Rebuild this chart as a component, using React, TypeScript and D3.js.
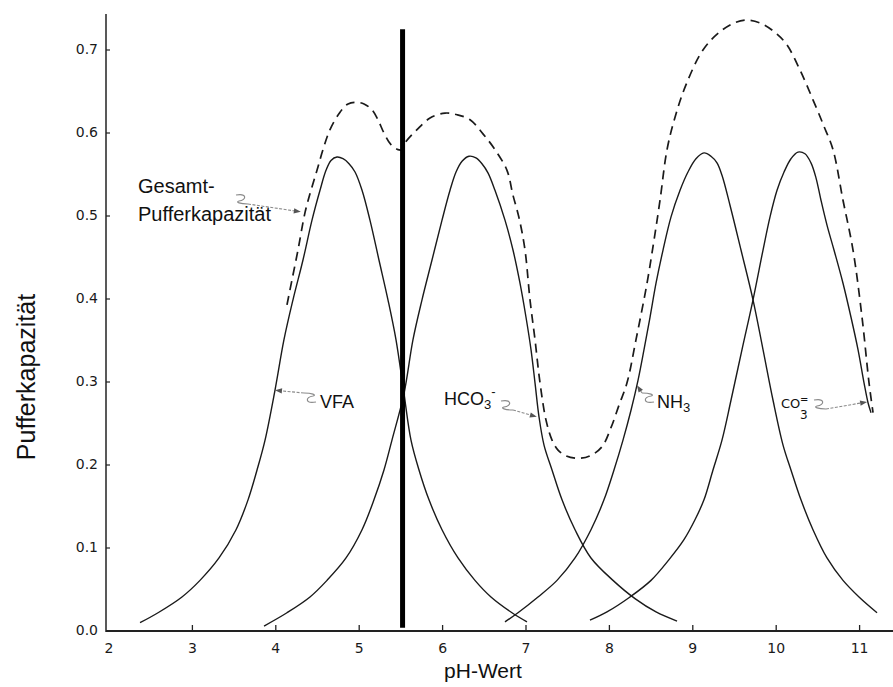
import React from "react";
import * as d3 from "d3";

// ---- data (pH, Pufferkapazität) ----
const vfaPH = [2.372, 2.588, 2.875, 3.091, 3.319, 3.523, 3.667, 3.775, 3.871, 3.99, 4.098, 4.206, 4.326, 4.434, 4.53, 4.602, 4.662, 4.734, 4.806, 4.878, 4.95, 5.034, 5.129, 5.237, 5.345, 5.441, 5.537, 5.621, 5.717, 5.837, 5.993, 6.185, 6.388, 6.58, 6.832, 7.012];
const vfaBeta = [0.01, 0.022, 0.041, 0.061, 0.088, 0.122, 0.158, 0.194, 0.23, 0.29, 0.351, 0.399, 0.447, 0.495, 0.531, 0.555, 0.567, 0.571, 0.569, 0.563, 0.553, 0.531, 0.495, 0.447, 0.399, 0.351, 0.286, 0.23, 0.194, 0.158, 0.122, 0.088, 0.061, 0.041, 0.022, 0.011];

const hco3PH = [3.859, 4.134, 4.41, 4.614, 4.842, 5.034, 5.177, 5.297, 5.393, 5.537, 5.645, 5.753, 5.873, 5.993, 6.089, 6.161, 6.233, 6.317, 6.4, 6.472, 6.544, 6.628, 6.748, 6.844, 6.928, 7.0, 7.06, 7.108, 7.156, 7.216, 7.312, 7.432, 7.588, 7.779, 8.043, 8.307, 8.559, 8.811];
const hco3Beta = [0.006, 0.022, 0.041, 0.061, 0.088, 0.122, 0.158, 0.194, 0.23, 0.286, 0.351, 0.399, 0.447, 0.495, 0.531, 0.553, 0.566, 0.572, 0.57, 0.563, 0.552, 0.531, 0.495, 0.459, 0.419, 0.378, 0.339, 0.299, 0.258, 0.224, 0.194, 0.158, 0.122, 0.088, 0.061, 0.039, 0.023, 0.012];

const nh3PH = [6.748, 6.904, 7.144, 7.372, 7.588, 7.779, 7.935, 8.055, 8.163, 8.259, 8.343, 8.415, 8.487, 8.559, 8.643, 8.739, 8.847, 8.942, 9.038, 9.134, 9.218, 9.29, 9.35, 9.446, 9.578, 9.722, 9.842, 9.962, 10.082, 10.177, 10.297, 10.441, 10.609, 10.801, 10.993, 11.209];
const nh3Beta = [0.011, 0.022, 0.041, 0.061, 0.088, 0.122, 0.158, 0.194, 0.23, 0.266, 0.302, 0.339, 0.378, 0.419, 0.459, 0.499, 0.531, 0.553, 0.569, 0.576, 0.572, 0.564, 0.549, 0.513, 0.459, 0.399, 0.339, 0.278, 0.224, 0.194, 0.158, 0.122, 0.088, 0.061, 0.041, 0.022];

const co3PH = [7.767, 7.971, 8.247, 8.499, 8.715, 8.894, 9.026, 9.134, 9.242, 9.35, 9.458, 9.59, 9.722, 9.842, 9.926, 10.01, 10.094, 10.177, 10.261, 10.345, 10.417, 10.477, 10.537, 10.609, 10.693, 10.801, 10.897, 10.981, 11.053, 11.101, 11.137];
const co3Beta = [0.013, 0.023, 0.041, 0.061, 0.086, 0.11, 0.134, 0.158, 0.194, 0.23, 0.278, 0.339, 0.399, 0.459, 0.499, 0.531, 0.553, 0.569, 0.577, 0.575, 0.564, 0.546, 0.519, 0.489, 0.459, 0.419, 0.378, 0.339, 0.299, 0.275, 0.263];

const totalPH = [4.134, 4.194, 4.266, 4.35, 4.422, 4.494, 4.566, 4.65, 4.77, 4.866, 4.962, 5.058, 5.153, 5.225, 5.297, 5.381, 5.465, 5.513, 5.549, 5.693, 5.849, 6.029, 6.173, 6.329, 6.484, 6.628, 6.772, 6.844, 6.916, 6.988, 7.048, 7.108, 7.168, 7.24, 7.312, 7.384, 7.48, 7.624, 7.767, 7.911, 8.019, 8.115, 8.211, 8.319, 8.451, 8.535, 8.607, 8.691, 8.787, 8.918, 9.122, 9.326, 9.506, 9.662, 9.842, 10.01, 10.13, 10.285, 10.441, 10.573, 10.681, 10.801, 10.921, 11.029, 11.113, 11.161];
const totalBeta = [0.393, 0.423, 0.459, 0.504, 0.531, 0.555, 0.58, 0.604, 0.625, 0.635, 0.637, 0.635, 0.628, 0.616, 0.6, 0.586, 0.58, 0.58, 0.588, 0.604, 0.618, 0.624, 0.622, 0.616, 0.599, 0.58, 0.555, 0.525, 0.498, 0.459, 0.399, 0.351, 0.299, 0.254, 0.23, 0.218, 0.211, 0.208, 0.211, 0.222, 0.245, 0.272, 0.299, 0.351, 0.419, 0.471, 0.519, 0.58, 0.619, 0.658, 0.7, 0.722, 0.733, 0.736, 0.731, 0.719, 0.706, 0.676, 0.64, 0.608, 0.58, 0.519, 0.459, 0.378, 0.299, 0.263];

const markerPH = 5.52;
const markerRange = [0.004, 0.725];

const xTicks = [3, 4, 5, 6, 7, 8, 9, 10, 11];
const xTickLabels = ["2", "3", "4", "5", "6", "7", "8", "9", "10", "11"];
const xTickLabelValues = [2, 3, 4, 5, 6, 7, 8, 9, 10, 11];
const yTicks = [0, 0.1, 0.2, 0.3, 0.4, 0.5, 0.6, 0.7];
const yTickLabels = ["0.0", "0.1", "0.2", "0.3", "0.4", "0.5", "0.6", "0.7"];

// annotation tips (pH, beta)
const tipGesamt = [4.3, 0.505];
const tipVFA = [3.99, 0.29];
const tipHCO3 = [7.13, 0.258];
const tipNH3 = [8.33, 0.296];
const tipCO3 = [11.09, 0.276];

const zip = (a: number[], b: number[]) => a.map((v, i) => [v, b[i]] as [number, number]);

function Squiggle({ sx, sy, tx, ty }: { sx: number; sy: number; tx: number; ty: number }) {
  const dir = tx > sx ? 1 : -1;
  const vs = Math.abs(ty - sy) < 2 ? 1 : Math.sign(ty - sy);
  const p = d3.path();
  p.moveTo(sx, sy);
  p.bezierCurveTo(sx + dir * 11, sy - vs * 2, sx + dir * 11, sy + vs * 5, sx + dir * 3, sy + vs * 6);
  p.bezierCurveTo(sx - dir * 1, sy + vs * 7, sx + dir * 4, sy + vs * 9, sx + dir * 12, sy + vs * 9);
  const ex = sx + dir * 12;
  const ey = sy + vs * 9;
  const ang = Math.atan2(ty - ey, tx - ex);
  const L = 7, Wd = 2.6;
  const bx = tx - L * Math.cos(ang), by = ty - L * Math.sin(ang);
  const head = `M${tx},${ty} L${bx + Wd * Math.sin(ang)},${by - Wd * Math.cos(ang)} L${bx - Wd * Math.sin(ang)},${by + Wd * Math.cos(ang)} Z`;
  return (
    <g>
      <path d={p.toString()} fill="none" stroke="#8a8a8a" strokeWidth={1.2} />
      <line x1={ex} y1={ey} x2={bx} y2={by} stroke="#8a8a8a" strokeWidth={1.1} strokeDasharray="3,1.5" />
      <path d={head} fill="#555" />
    </g>
  );
}

export default function App() {
  const x = d3.scaleLinear().domain([2, 11]).range([109, 859.6]);
  const y = d3.scaleLinear().domain([0, 0.7]).range([631, 50]);
  const line = d3
    .line<[number, number]>()
    .x((d) => x(d[0]))
    .y((d) => y(d[1]))
    .curve(d3.curveCatmullRom.alpha(0.5));

  const solid = [zip(vfaPH, vfaBeta), zip(hco3PH, hco3Beta), zip(nh3PH, nh3Beta), zip(co3PH, co3Beta)];
  const sans = "'Liberation Sans', Arial, Helvetica, sans-serif";
  const tickFont = "'DejaVu Sans', sans-serif";
  const axisLeft = 106;
  const axisBottom = 631;

  return (
    <svg width={893} height={687} style={{ position: "absolute", left: 0, top: 0, background: "#fff" }}>
      <rect width={893} height={687} fill="#fff" />
      {/* axes */}
      <line x1={axisLeft} y1={14} x2={axisLeft} y2={axisBottom + 1} stroke="#222" strokeWidth={1.5} />
      <line x1={axisLeft} y1={axisBottom} x2={893} y2={axisBottom} stroke="#222" strokeWidth={1.8} />
      {xTicks.map((t) => (
        <line key={"xt" + t} x1={x(t)} x2={x(t)} y1={axisBottom} y2={axisBottom - 6} stroke="#222" strokeWidth={1.3} />
      ))}
      {yTicks.map((t) => (
        <line key={"yt" + t} x1={axisLeft} x2={axisLeft + 4} y1={y(t)} y2={y(t)} stroke="#222" strokeWidth={1.2} />
      ))}
      {xTickLabelValues.map((t, i) => (
        <text key={"xl" + t} x={x(t)} y={653} textAnchor="middle" fontFamily={tickFont} fontSize={14} fill="#1a1a1a">
          {xTickLabels[i]}
        </text>
      ))}
      {yTicks.map((t, i) => (
        <text key={"yl" + t} x={98} y={y(t) + 4} textAnchor="end" fontFamily={tickFont} fontSize={14} fill="#1a1a1a">
          {yTickLabels[i]}
        </text>
      ))}

      {/* curves */}
      {solid.map((pts, i) => (
        <path key={"s" + i} d={line(pts) || ""} fill="none" stroke="#1a1a1a" strokeWidth={1.4} />
      ))}
      <path d={line(zip(totalPH, totalBeta)) || ""} fill="none" stroke="#1a1a1a" strokeWidth={1.7} strokeDasharray="9,6" />

      {/* marker line */}
      <line x1={x(markerPH)} x2={x(markerPH)} y1={y(markerRange[0])} y2={y(markerRange[1])} stroke="#000" strokeWidth={5} />

      {/* annotations */}
      <text x={138} y={193} fontFamily={sans} fontSize={20} fill="#111">Gesamt-</text>
      <text x={138} y={221} fontFamily={sans} fontSize={20} fill="#111">Pufferkapazität</text>
      <Squiggle sx={236} sy={195} tx={x(tipGesamt[0])} ty={y(tipGesamt[1])} />

      <text x={320} y={408} fontFamily={sans} fontSize={18} fill="#111">VFA</text>
      <Squiggle sx={316} sy={402} tx={x(tipVFA[0])} ty={y(tipVFA[1])} />

      <text x={444} y={405} fontFamily={sans} fontSize={18} fill="#111">
        HCO<tspan fontSize={13} dy={4}>3</tspan>
        <tspan fontSize={13} dy={-13}>-</tspan>
      </text>
      <Squiggle sx={501} sy={401} tx={x(tipHCO3[0])} ty={y(tipHCO3[1])} />

      <text x={657} y={408} fontFamily={sans} fontSize={18} fill="#111">
        NH<tspan fontSize={13} dy={4}>3</tspan>
      </text>
      <Squiggle sx={654} sy={402} tx={x(tipNH3[0])} ty={y(tipNH3[1])} />

      <text x={781} y={408} fontFamily={tickFont} fontSize={13} fill="#111">
        CO
      </text>
      <text x={800} y={403} fontFamily={tickFont} fontSize={10} fill="#111">=</text>
      <text x={800} y={419} fontFamily={tickFont} fontSize={12} fill="#111">3</text>
      <Squiggle sx={814} sy={400} tx={x(tipCO3[0])} ty={y(tipCO3[1])} />

      {/* axis titles */}
      <text x={483} y={678} textAnchor="middle" fontFamily={sans} fontSize={21} fill="#111">pH-Wert</text>
      <text transform="translate(35,377) rotate(-90)" textAnchor="middle" fontFamily={sans} fontSize={25} fill="#111">
        Pufferkapazität
      </text>
    </svg>
  );
}
